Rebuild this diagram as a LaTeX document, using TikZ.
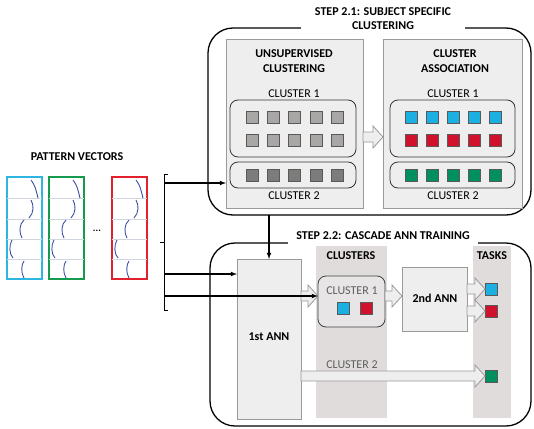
\documentclass[tikz,border=0pt]{standalone}
\usepackage{fontspec}
\setmainfont{Carlito}
\usetikzlibrary{calc,positioning}

\definecolor{panelfill}{HTML}{EFEEEE}
\definecolor{clfill}{HTML}{E7E5E5}
\definecolor{bandfill}{HTML}{E0DCDC}
\definecolor{edgegray}{HTML}{9A9A9A}
\definecolor{sqlight}{HTML}{A9A7A6}
\definecolor{sqdark}{HTML}{7E7C7B}
\definecolor{taskblue}{HTML}{1CB0E2}
\definecolor{taskred}{HTML}{D0122C}
\definecolor{taskgreen}{HTML}{008F5E}
\definecolor{pvblue}{HTML}{2DB6E2}
\definecolor{pvgreen}{HTML}{169A4E}
\definecolor{pvred}{HTML}{E2202E}
\definecolor{curveblue}{HTML}{3A4FA0}
\definecolor{gridline}{HTML}{D0D5E0}
\definecolor{labelgray}{HTML}{5E5E5E}

\tikzset{
  stepbox/.style={draw=black, line width=1.3pt, rounded corners=25pt, outer sep=0pt},
  steptitle/.style={fill=white, font=\bfseries\fontsize{12}{14}\selectfont, align=center},
  heading/.style={font=\bfseries\fontsize{12}{15}\selectfont, align=center},
  cltext/.style={font=\fontsize{12}{14}\selectfont},
  panel/.style={draw=edgegray, fill=panelfill, line width=0.8pt, outer sep=0pt, anchor=north west},
  band/.style={fill=bandfill, outer sep=0pt, anchor=north west},
  clbox/.style={draw=black!80, fill=panelfill, line width=0.8pt, rounded corners=8pt, outer sep=0pt, anchor=north west},
  sqbox/.style={draw=black!65, line width=0.6pt, minimum size=12pt, inner sep=0pt, outer sep=0pt},
  pvbox/.style={line width=1.2pt, minimum width=35pt, minimum height=102pt, outer sep=0pt, anchor=north west},
  flow/.style={line width=1.1pt, -latex},
  hollow/.style={draw=edgegray, fill=panelfill, line width=0.8pt, line join=miter}
}

% fat hollow arrow between two points (same height)
\newcommand{\fatarrow}[2]{%
  \path[hollow] let \p1=(#1), \p2=(#2) in
    (\x1,\y1+5pt) -- (\x2-10pt,\y1+5pt) -- (\x2-10pt,\y1+11pt) -- (\x2,\y1)
    -- (\x2-10pt,\y1-11pt) -- (\x2-10pt,\y1-5pt) -- (\x1,\y1-5pt) -- cycle;}

% grid and signal curves inside one pattern vector
\newcommand{\pvcurves}[1]{%
  \begin{scope}[shift={(#1.north west)}]
    \foreach \g in {21,42,62,82}
      \draw[gridline, line width=0.6pt] (0,\g) -- (35,\g);
    \draw[curveblue, line width=0.9pt] (24,3) .. controls (28,9) .. (31,21);
    \draw[curveblue, line width=0.9pt] (24,23) .. controls (27,28) and (27,36) .. (22,41);
    \draw[curveblue, line width=0.9pt] (17,43) .. controls (12,47) and (12,56) .. (15,61);
    \draw[curveblue, line width=0.9pt] (5,63) .. controls (2,68) and (2,77) .. (6,81);
    \draw[curveblue, line width=0.9pt] (17,84) .. controls (14,88) and (14,96) .. (17,101);
  \end{scope}}

\begin{document}
\begin{tikzpicture}[x=1pt, y=-1pt]
    \useasboundingbox (0,0) rectangle (534,428);

    % Draw the pattern vectors
    \node[heading] (pvt) at (77,157) {PATTERN VECTORS};
    \node[pvbox, draw=pvblue] (pv1) at (7,177) {};
    \node[pvbox, draw=pvgreen] (pv2) at (49,177) {};
    \node[pvbox, draw=pvred] (pv3) at (112,177) {};
    \pvcurves{pv1}
    \pvcurves{pv2}
    \pvcurves{pv3}
    \node[font=\bfseries] (dots) at (97,231) {...};

    % Draw the bracket and its outputs
    \draw[line width=0.7pt] (168,174) -- (164,174) -- (164,310) -- (168,310);
    \draw[line width=0.7pt] (164,242) -- (160,242);
    \coordinate (br1) at (164,183);
    \coordinate (br2) at (164,274);
    \coordinate (br3) at (164,296);

    % Draw step 2.1
    \node[stepbox, minimum width=323pt, minimum height=187pt, anchor=north west] (s21) at (208,28) {};
    \node[steptitle, inner xsep=14pt, inner ysep=2pt] (s21t) at (383,19) {STEP 2.1: SUBJECT SPECIFIC\\CLUSTERING};

    \node[panel, minimum width=137pt, minimum height=169pt] (uc) at (226,39) {};
    \node[heading] (uct) at (294,61) {UNSUPERVISED\\CLUSTERING};
    \node[cltext] (uc1t) at (294,94) {CLUSTER 1};
    \node[clbox, minimum width=126pt, minimum height=57pt] (uc1) at (230,100) {};
    \node[clbox, minimum width=126pt, minimum height=26pt] (uc2) at (230,162) {};
    \node[cltext] (uc2t) at (294,196) {CLUSTER 2};
    \foreach \x [count=\i] in {252,273,294,316,337} {
      \node[sqbox, fill=sqlight] (ua\i) at (\x,117) {};
      \node[sqbox, fill=sqlight] (ub\i) at (\x,140) {};
      \node[sqbox, fill=sqdark] (uc\i) at (\x,175) {};
    }

    \node[panel, minimum width=139pt, minimum height=169pt] (ca) at (383,39) {};
    \node[heading] (cat) at (455,61) {CLUSTER\\ASSOCIATION};
    \node[cltext] (ca1t) at (453,94) {CLUSTER 1};
    \node[clbox, minimum width=125pt, minimum height=57pt] (ca1) at (390,100) {};
    \node[clbox, minimum width=125pt, minimum height=26pt] (ca2) at (390,162) {};
    \node[cltext] (ca2t) at (453,196) {CLUSTER 2};
    \foreach \x [count=\i] in {411,432,453,474,495} {
      \node[sqbox, fill=taskblue] (ka\i) at (\x,117) {};
      \node[sqbox, fill=taskred] (kb\i) at (\x,140) {};
      \node[sqbox, fill=taskgreen] (kc\i) at (\x,175) {};
    }
    \fatarrow{uc.east |- 0,137}{ca.west |- 0,137}

    % Draw step 2.2
    \node[stepbox, minimum width=321pt, minimum height=183pt, anchor=north west] (s22) at (210,243) {};
    \node[steptitle, inner xsep=8pt, inner ysep=5pt] (s22t) at (383,236) {STEP 2.2: CASCADE ANN TRAINING};

    \node[band, minimum width=71pt, minimum height=172pt] (bcl) at (316,246) {};
    \node[band, minimum width=38pt, minimum height=172pt] (btk) at (473,246) {};
    \node[heading] (bclt) at (351,256) {CLUSTERS};
    \node[heading] (btkt) at (492,256) {TASKS};

    \node[panel, minimum width=64pt, minimum height=160pt] (ann1) at (237,259) {};
    \node[heading] (ann1t) at (269,337) {1st ANN};
    \node[clbox, fill=clfill, draw=black!75, minimum width=67pt, minimum height=51pt] (cl1) at (318,276) {};
    \node[cltext, text=labelgray] (cl1t) at (352,291) {CLUSTER 1};
    \node[sqbox, fill=taskblue] (c1a) at (343,308) {};
    \node[sqbox, fill=taskred] (c1b) at (366,308) {};
    \node[panel, minimum width=65pt, minimum height=64pt] (ann2) at (402,267) {};
    \node[heading] (ann2t) at (435,298) {2nd ANN};
    \node[sqbox, fill=taskblue] (t1) at (491,289) {};
    \node[sqbox, fill=taskred] (t2) at (491,311) {};
    \node[sqbox, fill=taskgreen] (t3) at (491,376) {};
    \node[cltext, text=labelgray] (cl2t) at (352,365) {CLUSTER 2};

    \fatarrow{ann1.east |- 0,296}{cl1.west |- 0,296}
    \fatarrow{cl1.east |- 0,296}{ann2.west |- 0,296}
    \fatarrow{ann2.east |- t1}{t1.west}
    \fatarrow{ann2.east |- t2}{t2.west}
    \fatarrow{ann1.east |- t3}{t3.west}

    % Draw the inputs
    \draw[flow] (br1) -- (br1 -| uc.west);
    \draw[flow] (br2) -- (br2 -| ann1.west);
    \draw[flow] (br3) -- (br3 -| cl1.west);
    \draw[flow] (ann1.north |- s21.south) -- (ann1.north);
\end{tikzpicture}
\end{document}
